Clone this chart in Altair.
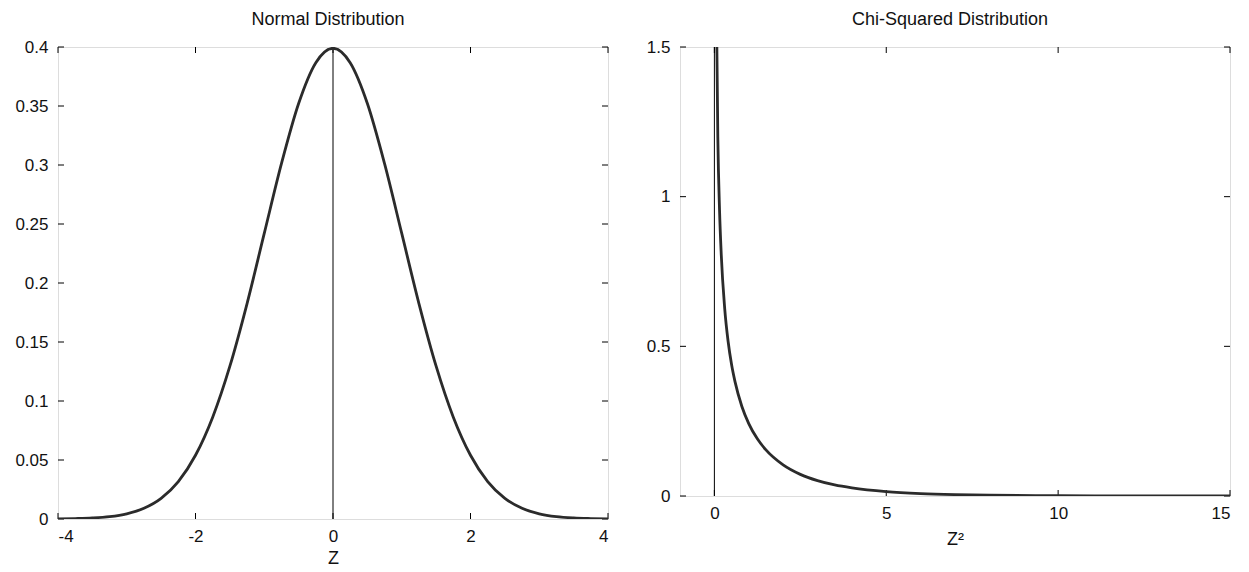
import altair as alt
import pandas as pd

# ---- data ----
normal_z = [-4, -3.75, -3.5, -3.25, -3, -2.75, -2.5, -2.25, -2, -1.75, -1.5, -1.25, -1, -0.75, -0.5, -0.25,
            0, 0.25, 0.5, 0.75, 1, 1.25, 1.5, 1.75, 2, 2.25, 2.5, 2.75, 3, 3.25, 3.5, 3.75, 4]
normal_pdf = [0.0001, 0.0004, 0.0009, 0.0020, 0.0044, 0.0091, 0.0175, 0.0317, 0.0540, 0.0863, 0.1295, 0.1826,
              0.2420, 0.3011, 0.3521, 0.3867, 0.3989, 0.3867, 0.3521, 0.3011, 0.2420, 0.1826, 0.1295, 0.0863,
              0.0540, 0.0317, 0.0175, 0.0091, 0.0044, 0.0020, 0.0009, 0.0004, 0.0001]

chi_z = [0.05, 0.1, 0.15, 0.2, 0.3, 0.4, 0.5, 0.6, 0.8, 1, 1.25, 1.5, 2, 2.5, 3, 3.5, 4, 5, 6, 7, 8, 10, 12, 15]
chi_pdf = [1.74, 1.20, 0.956, 0.807, 0.627, 0.516, 0.439, 0.382, 0.299, 0.242, 0.191, 0.154, 0.104, 0.0723,
           0.0514, 0.0368, 0.0270, 0.0146, 0.0081, 0.0046, 0.0026, 0.00085, 0.00029, 0.00004]

normal_xticks = [-4, -2, 0, 2, 4]
normal_yticks = [0, 0.05, 0.1, 0.15, 0.2, 0.25, 0.3, 0.35, 0.4]
chi_xticks = [0, 5, 10, 15]
chi_yticks = [0, 0.5, 1, 1.5]

FONT = "Liberation Sans"
W = 550
TICK = 6


def panel(xs, ys, xdom, ydom, xt, yt, title, xtitle, H, title_pad):
    df = pd.DataFrame({"x": xs, "y": ys})
    xt_df = pd.DataFrame({"x": xt})
    yt_df = pd.DataFrame({"y": yt})
    zero_df = pd.DataFrame({"x": [0]})

    X = alt.X("x:Q", scale=alt.Scale(domain=xdom, nice=False, zero=False),
              axis=alt.Axis(values=xt, title=xtitle, ticks=False, domain=False, grid=False,
                            labelExpr="'' + datum.value", labelFont=FONT, labelFontSize=17,
                            labelColor="#111", labelPadding=9, titleFont=FONT, titleFontSize=18,
                            titleFontWeight="normal", titleColor="#111", titlePadding=title_pad))
    Y = alt.Y("y:Q", scale=alt.Scale(domain=ydom, nice=False, zero=False),
              axis=alt.Axis(values=yt, title=None, ticks=False, domain=False, grid=False,
                            labelExpr="'' + datum.value", labelFont=FONT, labelFontSize=17,
                            labelColor="#111", labelPadding=10))

    line = alt.Chart(df).mark_line(color="#2b2b2b", strokeWidth=2.8, interpolate="monotone",
                                   clip=True).encode(x=X, y=Y)
    zero = alt.Chart(zero_df).mark_rule(color="black", strokeWidth=1).encode(
        x=X, y=alt.value(0), y2=alt.value(H))
    bt = alt.Chart(xt_df).mark_rule(color="black", strokeWidth=1).encode(
        x=X, y=alt.value(H), y2=alt.value(H - TICK))
    tt = alt.Chart(xt_df).mark_rule(color="black", strokeWidth=1).encode(
        x=X, y=alt.value(0), y2=alt.value(TICK))
    lt = alt.Chart(yt_df).mark_rule(color="black", strokeWidth=1).encode(
        y=Y, x=alt.value(0), x2=alt.value(TICK))
    rt = alt.Chart(yt_df).mark_rule(color="black", strokeWidth=1).encode(
        y=Y, x=alt.value(W - TICK), x2=alt.value(W))

    return alt.layer(zero, bt, tt, lt, rt, line).properties(
        width=W, height=H,
        title=alt.TitleParams(title, font=FONT, fontSize=18, fontWeight="normal",
                              color="#111", offset=9, anchor="middle", dx=-5))


left = panel(normal_z, normal_pdf, [-4, 4], [0, 0.4], normal_xticks, normal_yticks,
             "Normal Distribution", "Z", 472, 5)
right = panel(chi_z, chi_pdf, [-1, 15], [0, 1.5], chi_xticks, chi_yticks,
              "Chi-Squared Distribution", "Z²", 449, 9)

chart = alt.hconcat(left, right, spacing=36).properties(
    padding={"left": 6, "top": 2, "right": 5, "bottom": 0}
).configure_view(stroke="black", strokeWidth=1.3).configure(background="white")

chart.save("out.html", embed_options={"renderer": "svg", "actions": False})
